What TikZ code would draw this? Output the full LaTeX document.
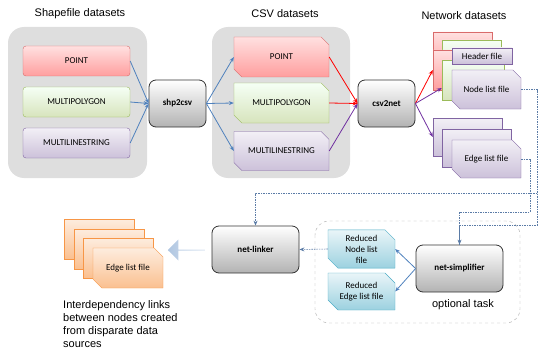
\documentclass[tikz,border=0pt]{standalone}
\usepackage{fontspec}
\setmainfont{Liberation Sans}
\newfontfamily\calibfont{Carlito}
\usepackage{tikz}
\usetikzlibrary{shapes.misc,shapes.arrows,arrows.meta,positioning}

\definecolor{grpgray}{HTML}{DEDEDE}
\definecolor{ptline}{HTML}{D96B6B}
\definecolor{pgline}{HTML}{9BBB59}
\definecolor{lsline}{HTML}{8064A2}
\definecolor{orline}{HTML}{F79646}
\definecolor{cyline}{HTML}{4BACC6}
\definecolor{arblue}{HTML}{4F81BD}
\definecolor{arpurple}{HTML}{7030A0}
\definecolor{lnkblue}{HTML}{5A7BA6}

\begin{document}
\begin{tikzpicture}[x=1pt,y=-1pt,>={Stealth[length=5pt,width=4pt]},
  title/.style={font=\fontsize{11}{13}\selectfont},
  lbl/.style={font=\calibfont\fontsize{9}{11}\selectfont,align=center,inner sep=0pt},
  shpbox/.style={lbl,draw,rounded corners=3pt,minimum width=107pt,minimum height=30pt},
  filebox/.style={lbl,draw,chamfered rectangle,chamfered rectangle corners={north east,south west},
    chamfered rectangle xsep=5pt,chamfered rectangle ysep=5pt},
  red fill/.style={draw=ptline,top color=red!12,bottom color=red!38!white},
  green fill/.style={draw=pgline,top color=green!4!white,bottom color=pgline!40!white},
  purple fill/.style={draw=lsline,top color=lsline!10!white,bottom color=lsline!40!white},
  orange fill/.style={draw=orline,top color=orline!18!white,bottom color=orline!60!white},
  cyan fill/.style={draw=cyline,top color=cyline!12!white,bottom color=cyline!55!white},
  tool/.style={lbl,font=\calibfont\bfseries\fontsize{9}{11}\selectfont,draw=black!80,thick,
    rounded corners=7pt,top color=white,bottom color=black!30,minimum width=57pt,minimum height=47pt},
  flow/.style={->,thick},
  link/.style={lnkblue,line width=0.6pt,dash pattern=on 1.5pt off 1pt}]

  \useasboundingbox (0,0) rectangle (538,353);

  % input and csv groups
  \fill[grpgray,rounded corners=16pt] (8,27) rectangle (147,178);
  \fill[grpgray,rounded corners=16pt] (212,27) rectangle (350,178);
  \node[title] at (80,14) {Shapefile datasets};
  \node[title] at (285,14) {CSV datasets};
  \node[title] at (464,16) {Network datasets};

  \node[shpbox,red fill] (sp) at (76.5,61) {POINT};
  \node[shpbox,green fill] (sg) at (76.5,102) {MULTIPOLYGON};
  \node[shpbox,purple fill] (sl) at (76.5,143) {MULTILINESTRING};

  \node[tool] (shp) at (177.5,103.5) {shp2csv};

  \node[filebox,red fill,minimum width=95pt,minimum height=40pt] (cp) at (281.5,57) {POINT};
  \node[filebox,green fill,minimum width=95pt,minimum height=40pt] (cg) at (281.5,103) {MULTIPOLYGON};
  \node[filebox,purple fill,minimum width=95pt,minimum height=39pt] (cl) at (281.5,151) {MULTILINESTRING};

  \node[tool] (net) at (386.5,103.5) {csv2net};

  % network datasets
  \node[filebox,red fill,minimum width=59pt,minimum height=40pt] (r1) at (462.5,52) {};
  \node[filebox,green fill,minimum width=59pt,minimum height=40pt] (g1) at (471.5,60) {};
  \node[filebox,red fill,minimum width=59pt,minimum height=40pt] (r2) at (462.5,70) {};
  \node[filebox,green fill,minimum width=62pt,minimum height=40pt] (g2) at (473,80) {};
  \node[lbl,draw=lsline,purple fill,minimum width=60pt,minimum height=16pt] (hdr) at (482,56) {Header file};
  \node[filebox,purple fill,minimum width=69pt,minimum height=39pt] (nl) at (486.5,89.5) {Node list file};

  \node[filebox,purple fill,minimum width=69pt,minimum height=38pt] (e1) at (467.5,137) {};
  \node[filebox,purple fill,minimum width=69pt,minimum height=38pt] (e2) at (477,148) {};
  \node[filebox,purple fill,minimum width=69pt,minimum height=38pt] (el) at (486.5,159) {Edge list file};

  \path[flow,arblue]
    (sp.east) edge (shp.west)
    (sg.east) edge (shp.west)
    (sl.east) edge (shp.west)
    (shp.east) edge (cp.west)
    (shp.east) edge (cg.west)
    (shp.east) edge (cl.west);
  \path[flow]
    (cp.east) edge[red] (net.west)
    (cg.east) edge[red] (net.west)
    (cl.east) edge[arpurple] (net.west)
    (net.east) edge[red] (r2.west)
    (net.east) edge[arpurple] ([yshift=-8pt]g2.west)
    (net.east) edge[arpurple] (e1.west);

  % lower row
  \node[tool,minimum width=87pt] (lnk) at (255.5,249.5) {net-linker};
  \node[single arrow,draw=none,shape border rotate=180,left color=arblue!45!white,right color=arblue!20!white,
    minimum height=37pt,minimum width=21pt,single arrow head extend=4pt,inner sep=0pt] (fat) at (186.5,250) {};

  \node[filebox,orange fill,minimum width=70pt,minimum height=40pt] (o1) at (99,239) {};
  \node[filebox,orange fill,minimum width=70pt,minimum height=40pt] (o2) at (109,249) {};
  \node[filebox,orange fill,minimum width=70pt,minimum height=40pt] (o3) at (118,258) {};
  \node[filebox,orange fill,minimum width=70pt,minimum height=40pt] (o4) at (128,268) {Edge list file};
  \node[anchor=north west,align=left,inner sep=0pt,font=\fontsize{11}{13}\selectfont] (txt) at (63,300)
    {Interdependency links\\between nodes created\\from disparate data\\sources};

  \draw[black!35,dashed,rounded corners=14pt] (315,221) rectangle (520,323);
  \node[filebox,cyan fill,minimum width=67pt,minimum height=38pt] (rn) at (361.5,249) {Reduced\\Node list\\file};
  \node[filebox,cyan fill,minimum width=67pt,minimum height=37pt] (re) at (361.5,291.5) {Reduced\\Edge list file};
  \node[tool,minimum width=87pt] (simp) at (459.5,268.5) {net-simplifier};
  \node[title] (opt) at (463,305) {optional task};

  \path[flow,arblue]
    (simp.west) edge (rn.east)
    (simp.west) edge (re.east);
  \draw[link,->] (rn.west) -- (lnk.east);

  % dashed links to the tools
  \coordinate (c1) at (537,193);
  \coordinate (c2) at (537,225);
  \coordinate (c3) at (530,212);
  \draw[link] (nl.east) -| (c2) -| (simp.north);
  \draw[link,->] (c1) -| (lnk.north);
  \draw[link,->] (el.east) -| (c3) -| (simp.north);
\end{tikzpicture}
\end{document}
